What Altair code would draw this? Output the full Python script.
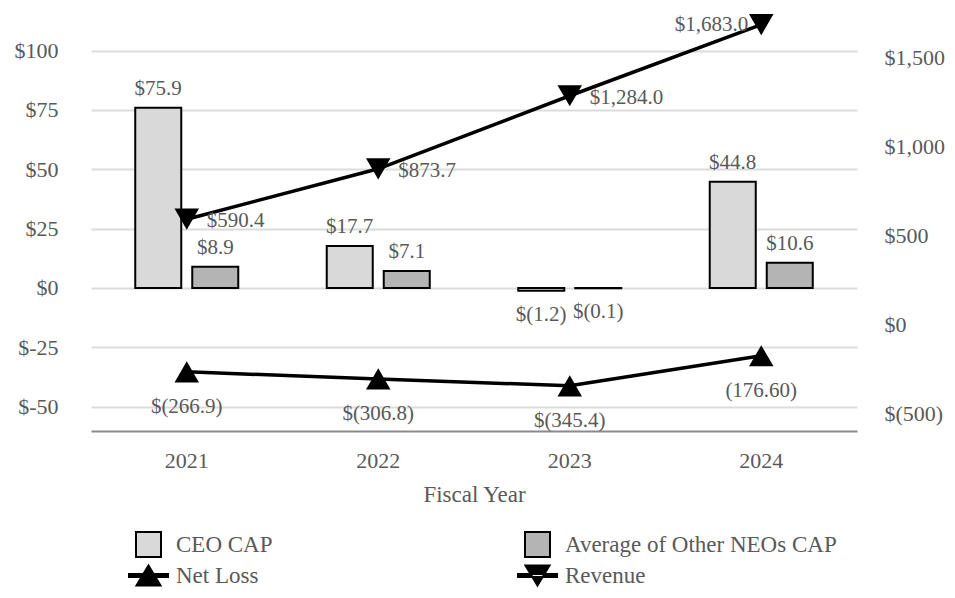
import altair as alt
import pandas as pd

years = ["2021", "2022", "2023", "2024"]
ceo_cap = [75.9, 17.7, -1.2, 44.8]
neo_cap = [8.9, 7.1, -0.1, 10.6]
ceo_labels = ["$75.9", "$17.7", "$(1.2)", "$44.8"]
neo_labels = ["$8.9", "$7.1", "$(0.1)", "$10.6"]
net_loss = [-266.9, -306.8, -345.4, -176.6]
net_loss_labels = ["$(266.9)", "$(306.8)", "$(345.4)", "(176.60)"]
revenue = [590.4, 873.7, 1284.0, 1683.0]
revenue_labels = ["$590.4", "$873.7", "$1,284.0", "$1,683.0"]
bar_series = ["CEO CAP", "Average of Other NEOs CAP"]
line_series = ["Net Loss", "Revenue"]
left_ticks = [-50, -25, 0, 25, 50, 75, 100]
right_ticks = [-500, 0, 500, 1000, 1500]

FONT = "Liberation Serif"
TXT = "#595959"

bar_rows = []
for i, y in enumerate(years):
    bar_rows.append({"year": y, "series": bar_series[0], "value": ceo_cap[i], "label": ceo_labels[i]})
    bar_rows.append({"year": y, "series": bar_series[1], "value": neo_cap[i], "label": neo_labels[i]})
bar_df = pd.DataFrame(bar_rows)

line_rows = []
for i, y in enumerate(years):
    line_rows.append({"year": y, "series": line_series[0], "value": net_loss[i], "label": net_loss_labels[i]})
    line_rows.append({"year": y, "series": line_series[1], "value": revenue[i], "label": revenue_labels[i]})
line_df = pd.DataFrame(line_rows)

all_series = bar_series + line_series
legend_df = pd.DataFrame({"series": all_series, "v": [None] * 4})

x_enc = alt.X("year:N", scale=alt.Scale(type="band", paddingInner=0, paddingOuter=0),
              axis=alt.Axis(title="Fiscal Year", labelAngle=0, ticks=False, tickSize=0, grid=False,
                            domain=True, domainColor="#8a8a8a", domainWidth=2,
                            labelPadding=19, titlePadding=12,
                            labelFont=FONT, labelFontSize=22, labelColor=TXT,
                            titleFont=FONT, titleFontSize=23, titleColor=TXT, titleFontWeight="normal"))

left_scale = alt.Scale(domain=[-60.25, 117.1], nice=False, zero=False)
left_axis = alt.Axis(title=None, orient="left", values=left_ticks, labelExpr="'$' + datum.value",
                     grid=True, gridColor="#dcdcdc", gridWidth=2, domain=False, ticks=False, tickSize=0,
                     labelPadding=33, labelFont=FONT, labelFontSize=22, labelColor=TXT)
right_scale = alt.Scale(domain=[-599.4, 1765.7], nice=False, zero=False)
right_axis = alt.Axis(title=None, orient="right", values=right_ticks,
                      labelExpr="datum.value < 0 ? '$(' + format(-datum.value, ',') + ')' : '$' + format(datum.value, ',')",
                      grid=False, domain=False, ticks=False, tickSize=0,
                      labelPadding=27, labelFont=FONT, labelFontSize=22, labelColor=TXT)

xoff = alt.XOffset("series:N", scale=alt.Scale(domain=bar_series, paddingInner=0.193, paddingOuter=0.776))
y_left = alt.Y("value:Q", scale=left_scale, axis=left_axis)

bars = alt.Chart(bar_df).mark_bar(stroke="black", strokeWidth=2).encode(
    x=x_enc, xOffset=xoff, y=y_left,
    fill=alt.Fill("series:N", scale=alt.Scale(domain=bar_series, range=["#d9d9d9", "#b4b4b4"]), legend=None),
)
bar_text_pos = alt.Chart(bar_df).transform_filter("datum.value >= 0").mark_text(
    font=FONT, fontSize=21, color=TXT, baseline="middle", dy=-19).encode(
    x=x_enc, xOffset=xoff, y=y_left, text="label:N")
bar_text_neg = alt.Chart(bar_df).transform_filter("datum.value < 0").mark_text(
    font=FONT, fontSize=21, color=TXT, baseline="middle", dy=24).encode(
    x=x_enc, xOffset=xoff, y=y_left, text="label:N")

left = alt.layer(bars, bar_text_pos, bar_text_neg)

y_right = alt.Y("value:Q", scale=right_scale, axis=right_axis)

lines = alt.Chart(line_df).mark_line(color="black", strokeWidth=3.5).encode(
    x=x_enc, y=y_right, detail="series:N")
pts_up = alt.Chart(line_df).transform_filter("datum.series == 'Net Loss'").mark_point(
    shape="triangle-up", filled=True, size=600, color="black", opacity=1).encode(x=x_enc, y=y_right)
pts_down = alt.Chart(line_df).transform_filter("datum.series == 'Revenue'").mark_point(
    shape="triangle-down", filled=True, size=600, color="black", opacity=1).encode(x=x_enc, y=y_right)
rev_text_a = alt.Chart(line_df).transform_filter("datum.series == 'Revenue' && datum.year != '2024'").mark_text(
    font=FONT, fontSize=21, color=TXT, align="left", baseline="middle", dx=20, dy=2).encode(
    x=x_enc, y=y_right, text="label:N")
rev_text_b = alt.Chart(line_df).transform_filter("datum.series == 'Revenue' && datum.year == '2024'").mark_text(
    font=FONT, fontSize=21, color=TXT, align="right", baseline="middle", dx=-13, dy=0).encode(
    x=x_enc, y=y_right, text="label:N")
nl_text = alt.Chart(line_df).transform_filter("datum.series == 'Net Loss'").mark_text(
    font=FONT, fontSize=21, color=TXT, align="center", baseline="middle", dy=35).encode(
    x=x_enc, y=y_right, text="label:N")

up_path = "M-1.56,-0.12H1.56V0.12H-1.56Z M0,-0.8L0.96,0.8L-0.96,0.8Z"
down_path = "M-1.56,-0.12H1.56V0.12H-1.56Z M0,0.8L0.96,-0.8L-0.96,-0.8Z"

leg = dict(title=None, orient="none", legendX=44, legendY=521, columns=2, columnPadding=241,
           direction="horizontal",
           rowPadding=0, symbolSize=625, labelFont=FONT, labelFontSize=23, labelColor=TXT,
           labelOffset=14, symbolStrokeColor="black", symbolStrokeWidth=2, padding=0,
           symbolOpacity=1, labelLimit=400)

legend_layer = alt.Chart(legend_df).mark_point(filled=True, strokeWidth=2).encode(
    y=alt.Y("v:Q", scale=right_scale, axis=right_axis),
    color=alt.Color("series:N", scale=alt.Scale(domain=all_series,
                    range=["#d9d9d9", "#b4b4b4", "black", "black"]), legend=alt.Legend(**leg)),
    shape=alt.Shape("series:N", scale=alt.Scale(domain=all_series,
                    range=["square", "square", up_path, down_path]), legend=alt.Legend(**leg)),
    stroke=alt.Stroke("series:N", scale=alt.Scale(domain=all_series,
                    range=["black", "black", "black", "black"]), legend=alt.Legend(**leg)),
)

right = alt.layer(lines, pts_up, pts_down, rev_text_a, rev_text_b, nl_text, legend_layer)

chart = alt.layer(left, right).resolve_scale(y="independent").properties(
    width=766, height=421,
    padding={"left": 83, "top": 2, "right": 90, "bottom": 159},
    autosize=alt.AutoSizeParams(type="none"),
    background="white",
).configure_view(stroke=None)

chart.save("out.html", embed_options={"renderer": "svg", "actions": False})
